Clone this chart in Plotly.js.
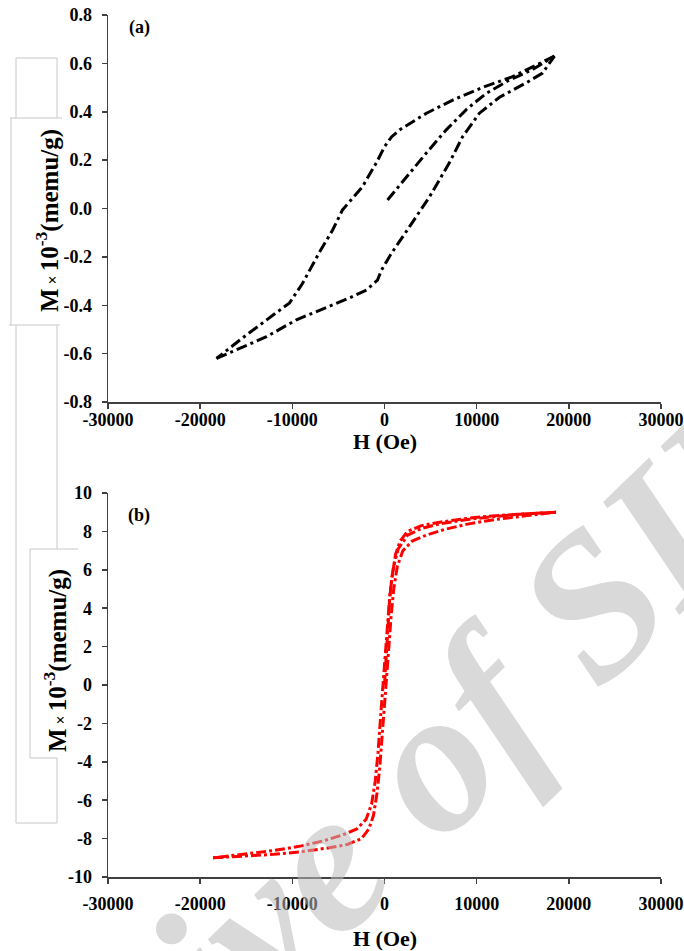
<!DOCTYPE html>
<html>
<head>
<meta charset="utf-8">
<script src="https://cdn.plot.ly/plotly-3.0.1.min.js"></script>
<style>html,body{margin:0;padding:0;background:#fff;}#chart{width:684px;height:951px;}</style>
</head>
<body>
<div id="chart"></div>
<script>
// ---------- data (a) ----------
const H_a_init = [330, 2350, 4550, 6700, 8900, 11000, 13500, 16000, 18440];
const M_a_init = [0.035, 0.13, 0.23, 0.325, 0.41, 0.475, 0.53, 0.573, 0.63];
const H_a_desc = [18440, 13900, 10600, 7400, 4550, 1630, 760, 0, -870, -2390, -4560, -5640, -7050, -8900, -10300, -12800, -15400, -18230];
const M_a_desc = [0.63, 0.545, 0.50, 0.448, 0.394, 0.325, 0.296, 0.255, 0.19, 0.09, -0.006, -0.09, -0.18, -0.31, -0.39, -0.46, -0.535, -0.62];
const H_a_asc = [-18230, -12800, -9550, -6300, -3800, -1950, -760, -330, 760, 2700, 4880, 7050, 8460, 10300, 12480, 15400, 17150, 18440];
const M_a_asc = [-0.62, -0.53, -0.46, -0.41, -0.37, -0.337, -0.296, -0.255, -0.185, -0.076, 0.048, 0.19, 0.296, 0.394, 0.46, 0.52, 0.56, 0.63];

// ---------- data (b) ----------
const H_b_init = [0, 150, 350, 600, 1000, 1500, 2500, 4000, 6000, 9000, 12000, 15000, 18600];
const M_b_init = [0.0, 1.2, 3.0, 4.8, 6.2, 7.1, 7.8, 8.15, 8.4, 8.62, 8.78, 8.9, 9.0];
const H_b_desc = [18600, 15000, 12000, 9000, 6000, 4000, 2500, 1700, 1200, 800, 500, 200, 0, -200, -400, -700, -1000, -1400, -2000, -3000, -4500, -6500, -9000, -12000, -15000, -18600];
const M_b_desc = [9.0, 8.92, 8.82, 8.68, 8.48, 8.3, 8.0, 7.5, 6.8, 5.6, 4.2, 2.3, 1.1, 0.0, -1.5, -3.5, -5.0, -6.2, -7.0, -7.5, -7.8, -8.1, -8.38, -8.62, -8.8, -9.0];
const H_b_asc = [-18600, -15000, -12000, -9000, -6000, -4000, -2500, -1700, -1200, -800, -500, -200, 0, 200, 400, 700, 1000, 1400, 2000, 3000, 4500, 6500, 9000, 12000, 15000, 18600];
const M_b_asc = [-9.0, -8.92, -8.82, -8.68, -8.48, -8.3, -8.0, -7.5, -6.8, -5.6, -4.2, -2.3, -1.1, 0.0, 1.5, 3.5, 5.0, 6.2, 7.0, 7.5, 7.8, 8.1, 8.38, 8.62, 8.8, 9.0];

// ---------- ticks ----------
const xTickVals = [-30000, -20000, -10000, 0, 10000, 20000, 30000];
const xTickText = ["-30000", "-20000", "-10000", "0", "10000", "20000", "30000"];
const yaTickVals = [-0.8, -0.6, -0.4, -0.2, 0.0, 0.2, 0.4, 0.6, 0.8];
const yaTickText = ["-0.8", "-0.6", "-0.4", "-0.2", "0.0", "0.2", "0.4", "0.6", "0.8"];
const ybTickVals = [-10, -8, -6, -4, -2, 0, 2, 4, 6, 8, 10];
const ybTickText = ["-10", "-8", "-6", "-4", "-2", "0", "2", "4", "6", "8", "10"];

// ---------- geometry helpers (pixel -> paper) ----------
const FW = 684, FH = 951;
const ML = 108, MR = 23, MT = 15, MB = 74;
const PW = FW - ML - MR, PH = FH - MT - MB;
const px = v => (v - ML) / PW;
const py = v => (FH - MB - v) / PH;

const FONT = "Liberation Serif, Times New Roman, serif";
const dashA = "11px,4px,3px,4px";
const dashB = "10px,3px,3px,3px";

function tr(x, y, color, dash, xa, ya) {
  return {x: x, y: y, type: "scatter", mode: "lines", xaxis: xa, yaxis: ya,
    line: {color: color, width: 3, dash: dash}, hoverinfo: "skip", showlegend: false};
}

const data = [
  tr(H_a_init, M_a_init, "#000000", dashA, "x", "y"),
  tr(H_a_desc, M_a_desc, "#000000", dashA, "x", "y"),
  tr(H_a_asc, M_a_asc, "#000000", dashA, "x", "y"),
  tr(H_b_init, M_b_init, "#ff0000", dashB, "x2", "y2"),
  tr(H_b_desc, M_b_desc, "#ff0000", dashB, "x2", "y2"),
  tr(H_b_asc, M_b_asc, "#ff0000", dashB, "x2", "y2")
];

const tickFont = {family: FONT, size: 18, color: "#000", weight: "bold"};
const axisCommon = {
  showline: true, linecolor: "#404040", linewidth: 1.5,
  ticks: "outside", ticklen: 5, tickwidth: 1.5, tickcolor: "#404040",
  showgrid: false, zeroline: false, mirror: false, tickfont: tickFont,
  fixedrange: true, automargin: false
};

function xAxis(anchor, standoff) {
  return Object.assign({}, axisCommon, {
    anchor: anchor, domain: [0, 1], range: [-30000, 30000],
    tickmode: "array", tickvals: xTickVals, ticktext: xTickText,
    ticklabelstandoff: standoff
  });
}

const yTitle = "M<span style='font-size:16px'> × </span>10<sup>-3</sup>(memu/g)";
const xTitle = "H (Oe)";

function line(x0, y0, x1, y1) {
  return {type: "line", xref: "paper", yref: "paper", x0: px(x0), y0: py(y0), x1: px(x1), y1: py(y1),
    line: {color: "#c8c8c8", width: 1}, layer: "below"};
}

const shapes = [
  line(16, 58, 57, 58), line(16, 58, 16, 118), line(57, 58, 57, 118),
  line(10, 118, 62, 118),
  line(11, 118, 11, 325), line(9, 325, 60, 325),
  line(16, 325, 16, 823), line(57, 325, 57, 549),
  line(30, 549, 78, 549), line(30, 549, 30, 758), line(30, 758, 57, 758),
  line(57, 758, 57, 823), line(16, 823, 57, 823)
];

function ann(text, x, y, size, extra) {
  return Object.assign({text: text, xref: "paper", yref: "paper", x: px(x), y: py(y),
    xanchor: "center", yanchor: "middle", showarrow: false,
    font: {family: FONT, size: size, color: "#000", weight: "bold"}}, extra || {});
}

const layout = {
  width: FW, height: FH,
  margin: {l: ML, r: MR, t: MT, b: MB},
  paper_bgcolor: "#ffffff", plot_bgcolor: "rgba(0,0,0,0)",
  showlegend: false,
  font: {family: FONT, color: "#000"},
  xaxis: xAxis("y", -4),
  xaxis2: xAxis("y2", 5),
  yaxis: Object.assign({}, axisCommon, {
    domain: [py(402), 1], range: [-0.8, 0.8], anchor: "x",
    tickmode: "array", tickvals: yaTickVals, ticktext: yaTickText, ticklabelstandoff: 6
  }),
  yaxis2: Object.assign({}, axisCommon, {
    domain: [0, py(493)], range: [-10, 10], anchor: "x2",
    tickmode: "array", tickvals: ybTickVals, ticktext: ybTickText, ticklabelstandoff: 6
  }),
  shapes: shapes,
  annotations: [
    ann("(a)", 139, 28, 18),
    ann("(b)", 139, 515, 18),
    ann(xTitle, 385, 441, 22),
    ann(xTitle, 385, 938, 22),
    ann(yTitle, 47, 221, 25, {textangle: -90}),
    ann(yTitle, 55, 661, 25, {textangle: -90}),
    {text: "Archive of SID", xref: "paper", yref: "paper", x: px(333), y: py(852), textangle: -44,
      xanchor: "center", yanchor: "middle", showarrow: false,
      font: {family: FONT, size: 205, color: "rgba(185,185,185,0.55)", weight: "bold", style: "italic"}}
  ]
};

Plotly.newPlot("chart", data, layout, {staticPlot: true, displayModeBar: false});
</script>
</body>
</html>
